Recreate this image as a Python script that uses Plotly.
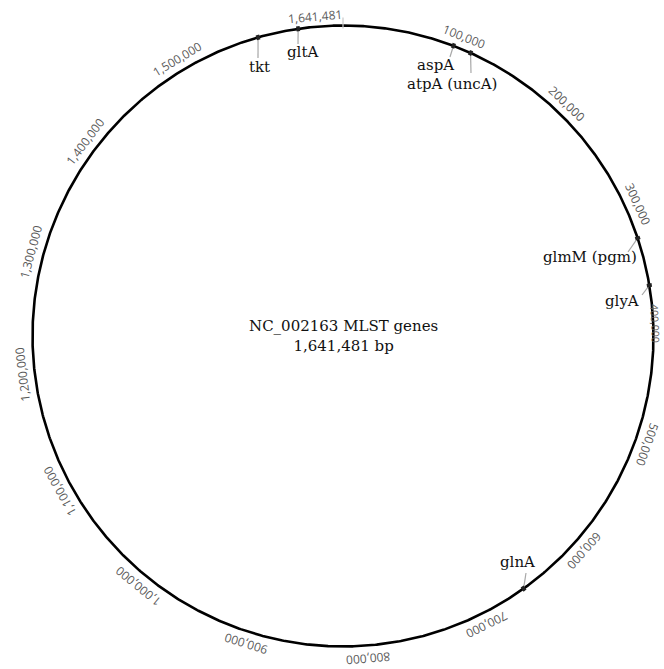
import numpy as np
import plotly.graph_objects as go

# ---- data ----
GENOME_ID = "NC_002163"
GENOME_LENGTH = 1641481
tick_positions = [100000 * k for k in range(1, 16)]
gene_names = ["aspA", "atpA (uncA)", "glmM (pgm)", "glyA", "glnA", "gltA", "tkt"]
gene_starts = [95000, 110600, 326600, 367500, 658600, 1603600, 1569100]

# ---- layout (pixels) ----
W, H = 664, 669
CX, CY, R = 343, 336, 310.5
LABEL_R = 323

# label / leader placement per gene (label centre, leader end)
gene_label_xy = {
    "aspA": (436, 65), "atpA (uncA)": (452, 84), "glmM (pgm)": (590, 257),
    "glyA": (622, 301), "glnA": (517, 562), "gltA": (302, 52), "tkt": (259, 67),
}
gene_leader_end = {
    "aspA": (450, 57), "atpA (uncA)": (471, 73), "glmM (pgm)": (628, 252),
    "glyA": (642, 295), "glnA": (526, 573), "gltA": (298, 44), "tkt": (258, 58),
}


def polar_px(bp, r):
    t = 2 * np.pi * np.asarray(bp, dtype=float) / GENOME_LENGTH
    return CX + r * np.sin(t), CY - r * np.cos(t)


def to_paper(px, py):
    return px / W, 1 - py / H


fig = go.Figure()

# backbone circle
ring = np.linspace(0, GENOME_LENGTH, 1441)
bx, by = polar_px(ring, R)
fig.add_trace(go.Scatter(x=bx, y=by, mode="lines",
                         line=dict(color="black", width=2.6), hoverinfo="skip"))

# origin tick
ox, oy = polar_px([0, 0], [R - 3, R + 8])
fig.add_trace(go.Scatter(x=ox, y=oy, mode="lines",
                         line=dict(color="#c8c8c8", width=1.2), hoverinfo="skip"))

annotations = []

# gene leaders, marks and labels
for name, start in zip(gene_names, gene_starts):
    sx, sy = polar_px(start, R)
    ex, ey = gene_leader_end[name]
    fig.add_trace(go.Scatter(x=[float(sx), ex], y=[float(sy), ey], mode="lines",
                             line=dict(color="#a8a8a8", width=1.2), hoverinfo="skip"))
    arc = np.linspace(start - 1500, start + 1500, 5)
    ax_, ay_ = polar_px(arc, R)
    fig.add_trace(go.Scatter(x=ax_, y=ay_, mode="lines",
                             line=dict(color="#222222", width=5), hoverinfo="skip"))
    lx, ly = to_paper(*gene_label_xy[name])
    annotations.append(dict(x=lx, y=ly, xref="paper", yref="paper", text=name,
                            showarrow=False, xanchor="center", yanchor="middle",
                            font=dict(family="DejaVu Serif", size=15, color="#111111")))

# position tick labels, rotated along the circle
for bp in tick_positions:
    deg = 360.0 * bp / GENOME_LENGTH
    r_lab, size = LABEL_R, 12
    px, py = polar_px(bp, r_lab)
    if px > W - 6:
        # keep the label at the right edge inside the canvas
        r_lab, size = (W - 8.5 - CX) / np.sin(np.radians(deg)), 10.5
        px, py = polar_px(bp, r_lab)
    x, y = to_paper(float(px), float(py))
    ang = deg if deg <= 180 else deg - 360
    annotations.append(dict(x=x, y=y, xref="paper", yref="paper", text=f"{bp:,}",
                            showarrow=False, xanchor="center", yanchor="middle",
                            textangle=ang, borderpad=0,
                            font=dict(family="Open Sans", size=size, color="#5a5a5a")))

# total length label at the origin
px, py = polar_px(-23000, LABEL_R - 2)
x, y = to_paper(float(px), float(py))
annotations.append(dict(x=x, y=y, xref="paper", yref="paper", text=f"{GENOME_LENGTH:,}",
                        showarrow=False, xanchor="center", yanchor="middle", textangle=-5,
                        font=dict(family="Open Sans", size=12, color="#5a5a5a")))

# centre title
annotations.append(dict(x=CX / W, y=1 - CY / H, xref="paper", yref="paper",
                        text=f"{GENOME_ID} MLST genes<br>{GENOME_LENGTH:,} bp",
                        showarrow=False, xanchor="center", yanchor="middle",
                        font=dict(family="DejaVu Serif", size=15, color="#111111")))

fig.update_layout(
    width=W, height=H, margin=dict(l=0, r=0, t=0, b=0),
    paper_bgcolor="white", plot_bgcolor="white", showlegend=False,
    xaxis=dict(range=[0, W], visible=False, fixedrange=True),
    yaxis=dict(range=[H, 0], visible=False, fixedrange=True),
    annotations=annotations,
)

fig.write_html("out.html")
